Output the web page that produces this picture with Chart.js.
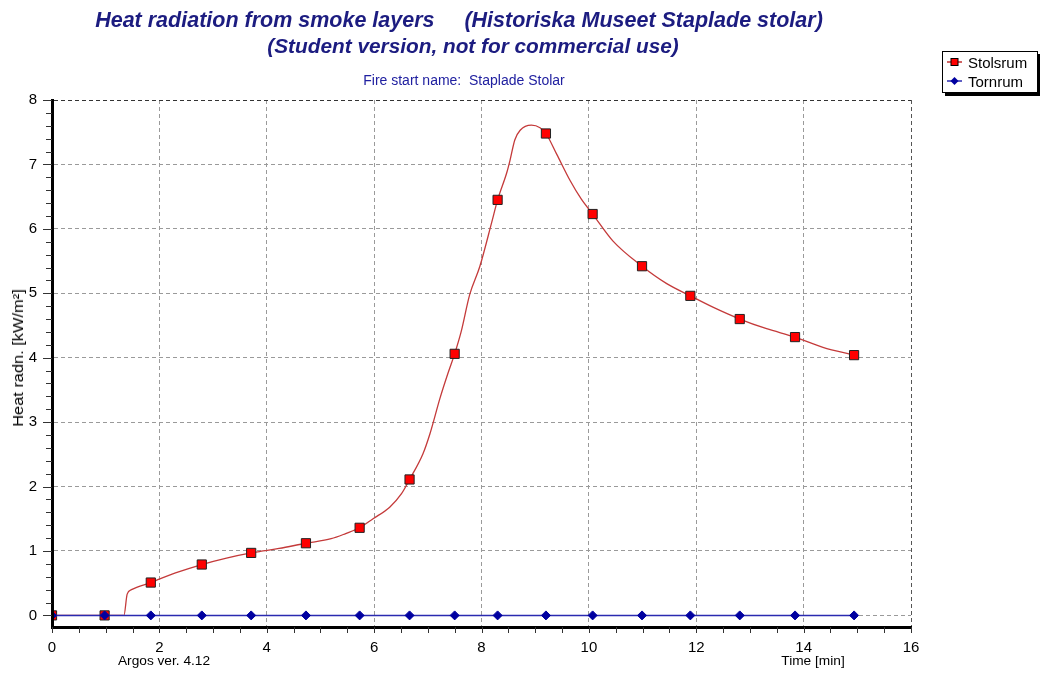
<!DOCTYPE html>
<html>
<head>
<meta charset="utf-8">
<script src="https://cdn.jsdelivr.net/npm/chart.js@4.4.1/dist/chart.umd.min.js"></script>
<style>
  html, body { margin: 0; padding: 0; background: #ffffff; }
  #wrap { position: relative; width: 1040px; height: 677px; overflow: hidden; font-family: "Liberation Sans", Arial, sans-serif; }
  #c { position: absolute; left: 0; top: 0; }
  .txt { position: absolute; white-space: pre; line-height: 1; }
  .title { font-weight: bold; font-style: italic; color: #1c1c80; transform: translate(-50%, -50%); }
  .sub { font-size: 14px; color: #2020a0; transform: translate(-50%, -50%); }
  .lbl { font-size: 13.7px; color: #000; transform: translate(-50%, -50%); }
  #ytitle { font-size: 14px; color: #000; transform: translate(-50%, -50%) rotate(-90deg) scaleX(1.17); }
  #legend { position: absolute; left: 942px; top: 51px; width: 94px; height: 40px; border: 1px solid #000; background: #fff; box-shadow: 3px 3px 0 #000; font-size: 15px; }
  .li { position: absolute; left: 3px; height: 18px; display: flex; align-items: center; }
  .li svg { margin-right: 5px; }
</style>
</head>
<body>
<div id="wrap">
  <canvas id="c" width="1040" height="677"></canvas>
  <div class="txt title" style="left:459px; top:21px; font-size:21.5px;">Heat radiation from smoke layers     (Historiska Museet Staplade stolar)</div>
  <div class="txt title" style="left:473px; top:46px; font-size:20.8px;">(Student version, not for commercial use)</div>
  <div class="txt sub" style="left:464px; top:80px;">Fire start name:  Staplade Stolar</div>
  <div class="txt" id="ytitle" style="left:18px; top:358px;">Heat radn. [kW/m²]</div>
  <div class="txt lbl" style="left:164px; top:661px;">Argos ver. 4.12</div>
  <div class="txt lbl" style="left:813px; top:661px;">Time [min]</div>
  <div id="legend">
    <div class="li" style="top:1px;"><svg width="17" height="12"><line x1="1" y1="6" x2="16" y2="6" stroke="#c03030" stroke-width="1.5"/><rect x="5" y="2.5" width="7" height="7" fill="#ff0000" stroke="#000" stroke-width="1"/></svg><span>Stolsrum</span></div>
    <div class="li" style="top:20px;"><svg width="17" height="12"><line x1="1" y1="6" x2="16" y2="6" stroke="#2a2ab0" stroke-width="1.5"/><polygon points="8.5,2 12.5,6 8.5,10 4.5,6" fill="#0000a0"/></svg><span>Tornrum</span></div>
  </div>
</div>
<script>
// ---- data ----
const markerTimes = [0, 0.98, 1.84, 2.79, 3.71, 4.73, 5.73, 6.66, 7.50, 8.30, 9.20, 10.07, 10.99, 11.89, 12.81, 13.84, 14.94];
const stolsrumMarkers = [0, 0, 0.51, 0.79, 0.97, 1.12, 1.36, 2.11, 4.06, 6.45, 7.48, 6.23, 5.42, 4.96, 4.60, 4.32, 4.04];
const tornrumMarkers = [0, 0, 0, 0, 0, 0, 0, 0, 0, 0, 0, 0, 0, 0, 0, 0, 0];

const curveTimes = [0, 0.98, 1.34, 1.40, 1.48, 1.84, 2.30, 2.79, 3.25, 3.71, 3.93, 4.23, 4.73, 5.20, 5.47, 5.73, 5.98, 6.29, 6.51, 6.66, 6.91, 7.04, 7.23, 7.38, 7.50, 7.62, 7.78, 7.97, 8.19, 8.30, 8.47, 8.53, 8.62, 8.72, 8.93, 9.09, 9.20, 9.40, 9.65, 9.86, 10.07, 10.45, 10.99, 11.45, 11.89, 12.32, 12.81, 13.31, 13.84, 14.36, 14.94];
const curveValues = [0, 0, 0, 0.33, 0.40, 0.51, 0.66, 0.79, 0.89, 0.97, 1.00, 1.04, 1.12, 1.19, 1.27, 1.36, 1.50, 1.68, 1.89, 2.11, 2.51, 2.82, 3.38, 3.77, 4.06, 4.40, 4.98, 5.42, 6.10, 6.45, 6.87, 7.06, 7.38, 7.53, 7.61, 7.57, 7.48, 7.16, 6.75, 6.46, 6.23, 5.81, 5.42, 5.15, 4.96, 4.78, 4.60, 4.45, 4.32, 4.16, 4.04];

const xTickValues = [0, 2, 4, 6, 8, 10, 12, 14, 16];
const yTickValues = [0, 1, 2, 3, 4, 5, 6, 7, 8];
const xMinorStep = 0.5;
const yMinorStep = 0.2;

// ---- build chart ----
const pts = (xs, ys) => xs.map((x, i) => ({ x: x, y: ys[i] }));

const tickPlugin = {
  id: 'minorTicks',
  afterDraw(chart) {
    const ctx = chart.ctx;
    const xs = chart.scales.x, ys = chart.scales.y;
    const area = chart.chartArea;
    ctx.save();
    ctx.strokeStyle = '#333';
    ctx.lineWidth = 1;
    ctx.beginPath();
    for (let v = 0; v <= ys.max + 1e-9; v += yMinorStep) {
      const py = Math.round(ys.getPixelForValue(v)) + 0.5;
      const major = Math.abs(v - Math.round(v)) < 1e-6;
      ctx.moveTo(area.left - (major ? 9 : 6), py);
      ctx.lineTo(area.left, py);
    }
    for (let v = 0; v <= xs.max + 1e-9; v += xMinorStep) {
      const px = Math.round(xs.getPixelForValue(v)) + 0.5;
      ctx.moveTo(px, area.bottom);
      ctx.lineTo(px, area.bottom + 6);
    }
    ctx.stroke();
    ctx.restore();
  }
};

const tickFont = { family: '"Liberation Sans", Arial, sans-serif', size: 15 };

new Chart(document.getElementById('c'), {
  type: 'line',
  data: {
    datasets: [
      {
        label: 'Stolsrum curve',
        data: pts(curveTimes, curveValues),
        borderColor: '#c43a3a',
        borderWidth: 1.3,
        pointRadius: 0,
        cubicInterpolationMode: 'monotone',
        order: 3
      },
      {
        label: 'Stolsrum',
        data: pts(markerTimes, stolsrumMarkers),
        showLine: false,
        pointStyle: 'rect',
        pointRadius: 6.5,
        backgroundColor: '#ff0000',
        borderColor: '#222',
        borderWidth: 1,
        order: 2
      },
      {
        label: 'Tornrum',
        data: pts(markerTimes, tornrumMarkers),
        borderColor: '#2a2ab0',
        borderWidth: 1.5,
        pointStyle: 'rectRot',
        pointRadius: 4.5,
        backgroundColor: '#0000a0',
        pointBorderColor: '#0000a0',
        pointBorderWidth: 1,
        order: 1
      }
    ]
  },
  options: {
    responsive: false,
    animation: false,
    events: [],
    layout: { padding: { left: 0, top: 100, right: 129, bottom: 0 } },
    plugins: {
      legend: { display: false },
      title: { display: false },
      tooltip: { enabled: false }
    },
    scales: {
      x: {
        type: 'linear',
        position: 'bottom',
        min: 0,
        max: 16,
        afterFit(s) { s.height = 50; },
        afterBuildTicks(s) { s.ticks = xTickValues.map(v => ({ value: v })); },
        grid: {
          drawTicks: false,
          lineWidth: 1,
          color: (c) => c.tick && c.tick.value === 0 ? 'rgba(0,0,0,0)' : (c.tick && c.tick.value === 16 ? '#555' : '#9a9a9a')
        },
        border: { display: true, color: '#000', width: 3, dash: [4, 3], z: 1 },
        ticks: {
          padding: 12,
          color: '#000',
          font: tickFont,
          maxRotation: 0,
          autoSkip: false
        }
      },
      y: {
        type: 'linear',
        position: 'left',
        min: -0.18,
        max: 8,
        afterFit(s) { s.width = 52; },
        afterBuildTicks(s) { s.ticks = yTickValues.map(v => ({ value: v })); },
        grid: {
          drawTicks: false,
          lineWidth: 1,
          color: (c) => c.tick && c.tick.value === 8 ? '#333' : '#9a9a9a'
        },
        border: { display: true, color: '#000', width: 3, dash: [4, 3], z: 1 },
        ticks: {
          padding: 15,
          color: '#000',
          font: tickFont,
          autoSkip: false
        }
      }
    }
  },
  plugins: [tickPlugin]
});
</script>
</body>
</html>
